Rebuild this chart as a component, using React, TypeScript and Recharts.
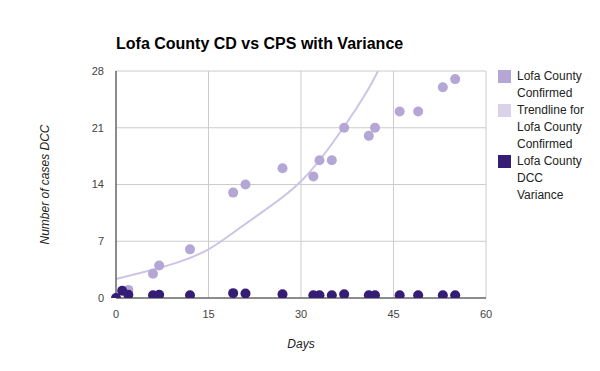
import React from "react"
import {
  ComposedChart,
  Scatter,
  Line,
  XAxis,
  YAxis,
  CartesianGrid,
} from "recharts"

// Lofa County confirmed cases by day
const confirmedDays = [2, 6, 7, 12, 19, 21, 27, 32, 33, 35, 37, 41, 42, 46, 49, 53, 55]
const confirmedCases = [1, 3, 4, 6, 13, 14, 16, 15, 17, 17, 21, 20, 21, 23, 23, 26, 27]

// DCC variance
const varianceDays = [0, 1, 2, 6, 7, 12, 19, 21, 27, 32, 33, 35, 37, 41, 42, 46, 49, 53, 55]
const varianceValues = [0, 0.9, 0.4, 0.35, 0.4, 0.35, 0.6, 0.55, 0.45, 0.35, 0.35, 0.35, 0.45, 0.35, 0.35, 0.35, 0.35, 0.35, 0.35]

// trendline
const trendDays = [0, 5, 10, 15, 20, 25, 30, 35, 40, 42.5]
const trendValues = [2.35, 3.3, 4.4, 6.0, 8.6, 11.3, 14.4, 19.0, 24.6, 28]

const xTicks = [0, 15, 30, 45, 60]
const yTicks = [0, 7, 14, 21, 28]

const confirmedData = confirmedDays.map((x, i) => ({ x, y: confirmedCases[i] }))
const varianceData = varianceDays.map((x, i) => ({ x, y: varianceValues[i] }))
const trendData = trendDays.map((x, i) => ({ x, y: trendValues[i] }))

const font = "Arial, 'Liberation Sans', sans-serif"

const legendItems = [
  { color: "#b4a7d6", lines: ["Lofa County", "Confirmed"] },
  { color: "#d9d2e9", lines: ["Trendline for", "Lofa County", "Confirmed"] },
  { color: "#351c75", lines: ["Lofa County", "DCC", "Variance"] },
]

const ChartLegend = () => (
  <div style={{ position: "absolute", left: 498, top: 68, fontFamily: font, fontSize: 12, color: "#222" }}>
    {legendItems.map((item) => (
      <div key={item.lines.join()} style={{ display: "flex" }}>
        <div style={{ width: 13, height: 13, background: item.color, marginRight: 6, marginTop: 2, flexShrink: 0 }} />
        <div style={{ lineHeight: "17px" }}>
          {item.lines.map((l) => (
            <div key={l}>{l}</div>
          ))}
        </div>
      </div>
    ))}
  </div>
)

const dot = (color: string) => (props: any) => (
  <circle cx={props.cx} cy={props.cy} r={5} fill={color} />
)

const tickStyle = { fontSize: 11, fill: "#444", fontFamily: font }

export default function App() {
  return (
    <div style={{ position: "absolute", left: 0, top: 0, width: 600, height: 371, background: "#fff" }}>
      <div
        style={{
          position: "absolute",
          left: 116,
          top: 35,
          fontFamily: font,
          fontWeight: "bold",
          fontSize: 16,
          color: "#000",
        }}
      >
        Lofa County CD vs CPS with Variance
      </div>
      <ComposedChart
        width={600}
        height={371}
        margin={{ top: 71, right: 114, bottom: 33, left: 0 }}
      >
        <CartesianGrid stroke="#ccc" />
        <XAxis
          type="number"
          dataKey="x"
          domain={[0, 60]}
          ticks={xTicks}
          tick={tickStyle}
          tickLine={false}
          tickMargin={6}
          axisLine={{ stroke: "#333" }}
          height={40}
          label={{
            value: "Days",
            position: "insideBottom",
            offset: -10,
            style: { fontSize: 12, fontStyle: "italic", fill: "#222", fontFamily: font },
          }}
        />
        <YAxis
          type="number"
          dataKey="y"
          domain={[0, 28]}
          ticks={yTicks}
          tick={tickStyle}
          tickLine={false}
          tickMargin={6}
          axisLine={{ stroke: "#333" }}
          width={116}
          allowDataOverflow
          label={{
            value: "Number of cases DCC",
            angle: -90,
            position: "insideLeft",
            offset: 45,
            style: { fontSize: 12, fontStyle: "italic", fill: "#222", fontFamily: font, textAnchor: "middle" },
          }}
        />
        <Line
          data={trendData}
          dataKey="y"
          type="natural"
          stroke="#cdc4e6"
          strokeWidth={2}
          dot={false}
          isAnimationActive={false}
        />
        <Scatter
          data={confirmedData}
          dataKey="y"
          fill="#b4a7d6"
          shape={dot("#b4a7d6")}
          isAnimationActive={false}
        />
        <Scatter
          data={varianceData}
          dataKey="y"
          fill="#351c75"
          shape={dot("#351c75")}
          isAnimationActive={false}
        />
      </ComposedChart>
      <ChartLegend />
    </div>
  )
}
